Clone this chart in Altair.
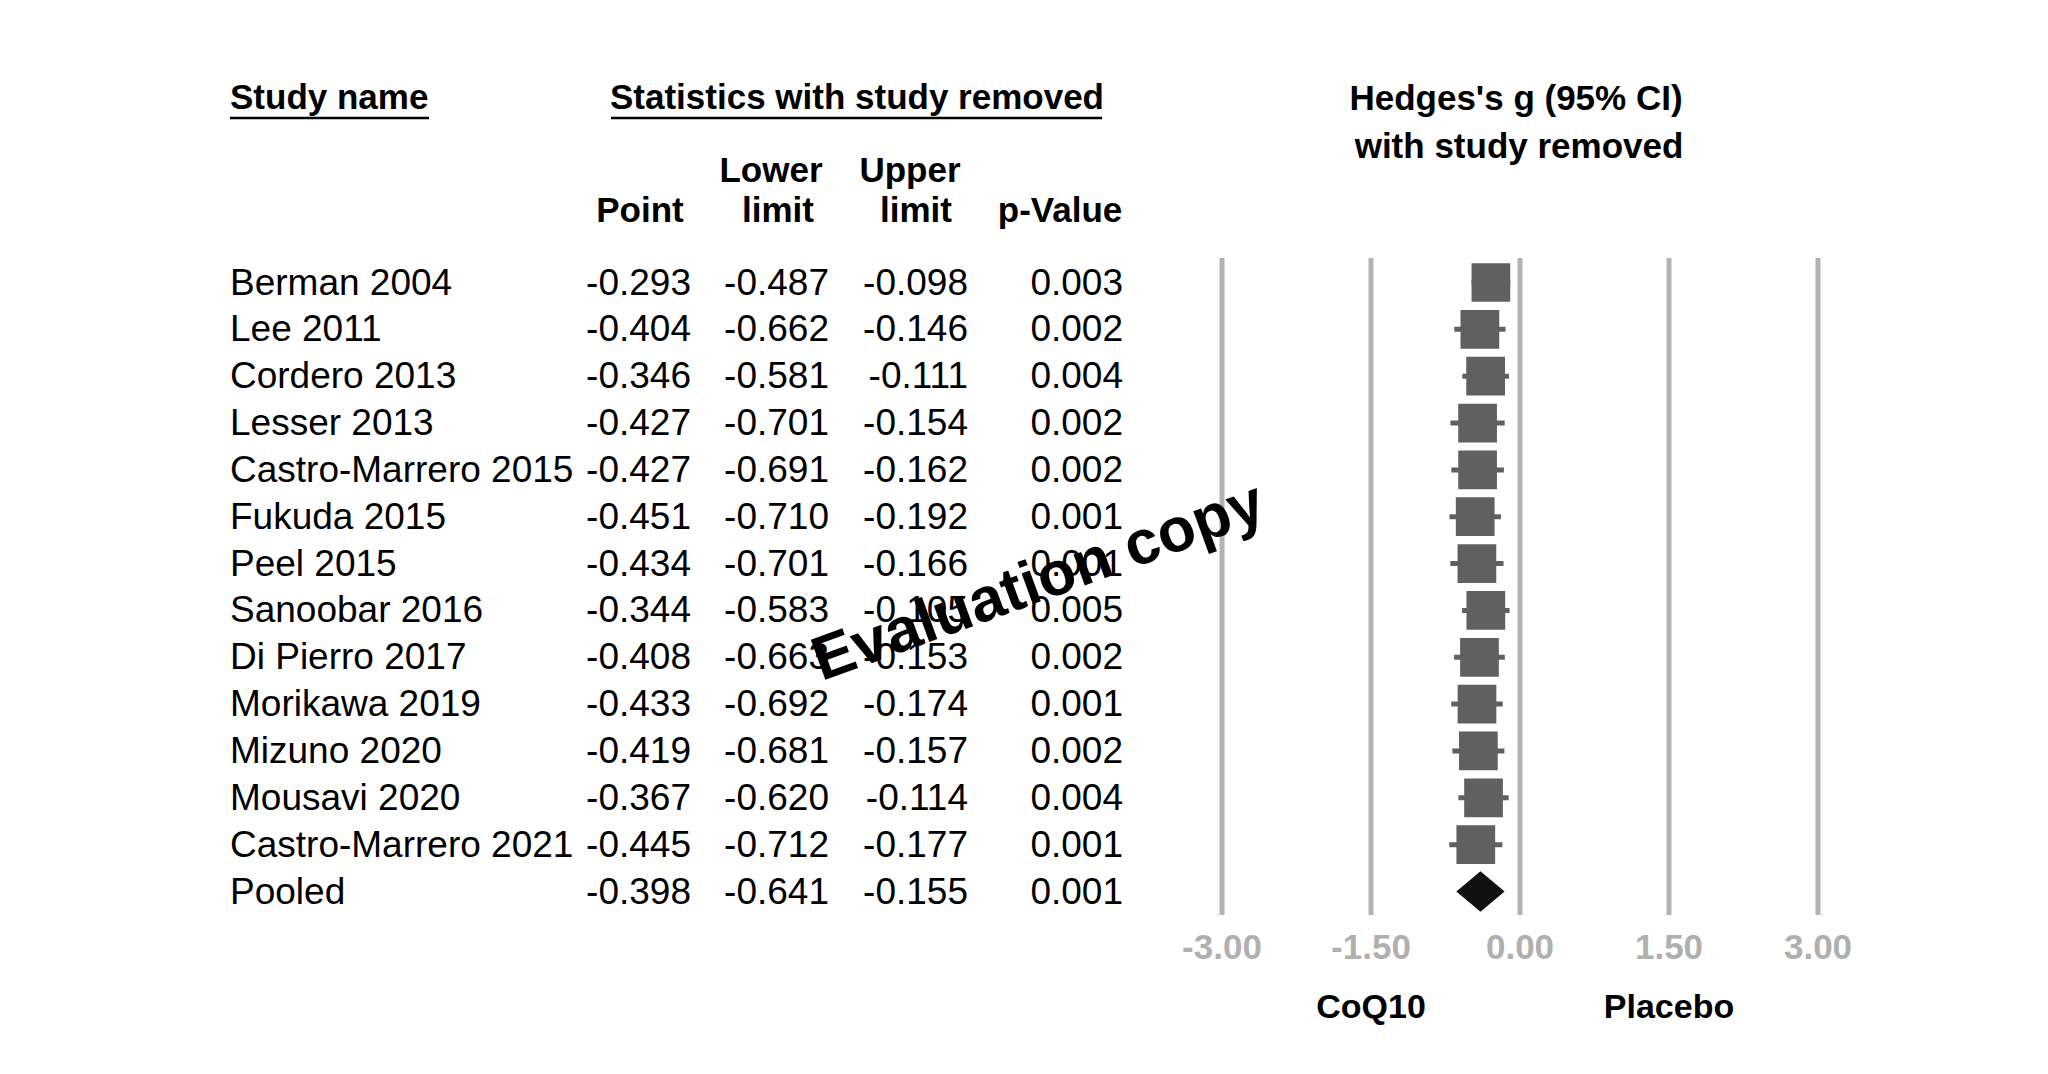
import altair as alt
import pandas as pd

# ---------------- data ----------------
studies = ["Berman 2004", "Lee 2011", "Cordero 2013", "Lesser 2013",
           "Castro-Marrero 2015", "Fukuda 2015", "Peel 2015", "Sanoobar 2016",
           "Di Pierro 2017", "Morikawa 2019", "Mizuno 2020", "Mousavi 2020",
           "Castro-Marrero 2021", "Pooled"]
point = [-0.293, -0.404, -0.346, -0.427, -0.427, -0.451, -0.434, -0.344,
         -0.408, -0.433, -0.419, -0.367, -0.445, -0.398]
lower = [-0.487, -0.662, -0.581, -0.701, -0.691, -0.710, -0.701, -0.583,
         -0.663, -0.692, -0.681, -0.620, -0.712, -0.641]
upper = [-0.098, -0.146, -0.111, -0.154, -0.162, -0.192, -0.166, -0.105,
         -0.153, -0.174, -0.157, -0.114, -0.177, -0.155]
pvalue = ["0.003", "0.002", "0.004", "0.002", "0.002", "0.001", "0.001",
          "0.005", "0.002", "0.001", "0.002", "0.004", "0.001", "0.001"]
ticks = [-3.0, -1.5, 0.0, 1.5, 3.0]
tick_labels = ["-3.00", "-1.50", "0.00", "1.50", "3.00"]
favours = ["CoQ10", "Placebo"]
favours_pos = [-1.5, 1.5]

FONT = "Liberation Sans"
n = len(studies)
pooled = n - 1

df = pd.DataFrame({
    "study": studies, "point": point, "lower": lower, "upper": upper,
    "p": pvalue, "row": list(range(n)),
})
df["point_s"] = [f"{v:.3f}" for v in point]
df["lower_s"] = [f"{v:.3f}" for v in lower]
df["upper_s"] = [f"{v:.3f}" for v in upper]
df_st = df[df["row"] < pooled]

xs = alt.Scale(domain=[-3, 3], range=[1214, 1810], nice=False, zero=False)
ys = alt.Scale(domain=[0, pooled], range=[274.5, 883.5], nice=False, zero=False)

Y = alt.Y("row:Q", scale=ys, axis=None)


def label(text, x, y, size=35, bold=True, align="center", color="#000000"):
    return alt.Chart(pd.DataFrame({"t": [text]})).mark_text(
        font=FONT, fontSize=size, fontWeight="bold" if bold else "normal",
        align=align, baseline="alphabetic", color=color
    ).encode(x=alt.value(x), y=alt.value(y), text="t:N")


def underline(x1, x2, y):
    return alt.Chart(pd.DataFrame({"a": [0]})).mark_rule(
        color="#000000", strokeWidth=2.5
    ).encode(x=alt.value(x1), x2=alt.value(x2), y=alt.value(y))


def col_text(field, x, align):
    return alt.Chart(df).mark_text(
        font=FONT, fontSize=37, align=align, baseline="alphabetic", dy=12,
        color="#000000"
    ).encode(x=alt.value(x), y=Y, text=f"{field}:N")


# headers
headers = [
    label("Study name", 222, 101, align="left"),
    underline(222, 421, 110),
    label("Statistics with study removed", 849, 101),
    underline(603, 1094, 110),
    label("Lower", 763, 174),
    label("Upper", 902, 174),
    label("Point", 632, 214),
    label("limit", 770, 214),
    label("limit", 908, 214),
    label("p-Value", 1052, 214),
    label("Hedges's g (95% CI)", 1508, 102),
    label("with study removed", 1511, 150),
]

# table columns
cols = [
    col_text("study", 222, "left"),
    col_text("point_s", 683, "right"),
    col_text("lower_s", 821, "right"),
    col_text("upper_s", 960, "right"),
    col_text("p", 1115, "right"),
]

# forest plot
grid = alt.Chart(pd.DataFrame({"tick": ticks})).mark_rule(
    color="#b3b3b3", strokeWidth=5
).encode(x=alt.X("tick:Q", scale=xs, axis=None), y=alt.value(250), y2=alt.value(907))

tick_text = alt.Chart(pd.DataFrame({"tick": ticks, "lab": tick_labels})).mark_text(
    font=FONT, fontSize=35, fontWeight="bold", color="#b0b0b0",
    align="center", baseline="alphabetic"
).encode(x=alt.X("tick:Q", scale=xs, axis=None), y=alt.value(951), text="lab:N")

fav_text = alt.Chart(pd.DataFrame({"pos": favours_pos, "lab": favours})).mark_text(
    font=FONT, fontSize=34, fontWeight="bold", color="#000000",
    align="center", baseline="alphabetic"
).encode(x=alt.X("pos:Q", scale=xs, axis=None), y=alt.value(1010), text="lab:N")

ci = alt.Chart(df_st).mark_rule(color="#606060", strokeWidth=5).encode(
    x=alt.X("lower:Q", scale=xs, axis=None), x2="upper:Q", y=Y
)

squares = alt.Chart(df_st).mark_point(
    shape="square", size=1500, filled=True, color="#606060", opacity=1,
    strokeWidth=0
).encode(x=alt.X("point:Q", scale=xs, axis=None), y=Y)

h = 0.43
diamond_df = pd.DataFrame({
    "x": [lower[pooled], point[pooled], upper[pooled]],
    "y": [pooled, pooled - h, pooled],
    "y2": [pooled, pooled + h, pooled],
})
diamond = alt.Chart(diamond_df).mark_area(color="#111111", opacity=1).encode(
    x=alt.X("x:Q", scale=xs, axis=None),
    y=alt.Y("y:Q", scale=ys, axis=None),
    y2="y2:Q",
)

watermark = alt.Chart(pd.DataFrame({"t": ["Evaluation copy"]})).mark_text(
    font=FONT, fontSize=62, fontWeight="bold", color="#000000",
    align="center", baseline="alphabetic", angle=340
).encode(x=alt.value(1037), y=alt.value(592), text="t:N")

chart = alt.layer(
    grid, *headers, *cols, tick_text, fav_text, ci, squares, diamond, watermark
).properties(
    width=2032, height=1058,
    autosize=alt.AutoSizeParams(type="none"),
    padding=0,
    background="#ffffff",
).configure_view(stroke=None)

chart.save("out.html", embed_options={"renderer": "svg", "actions": False})
